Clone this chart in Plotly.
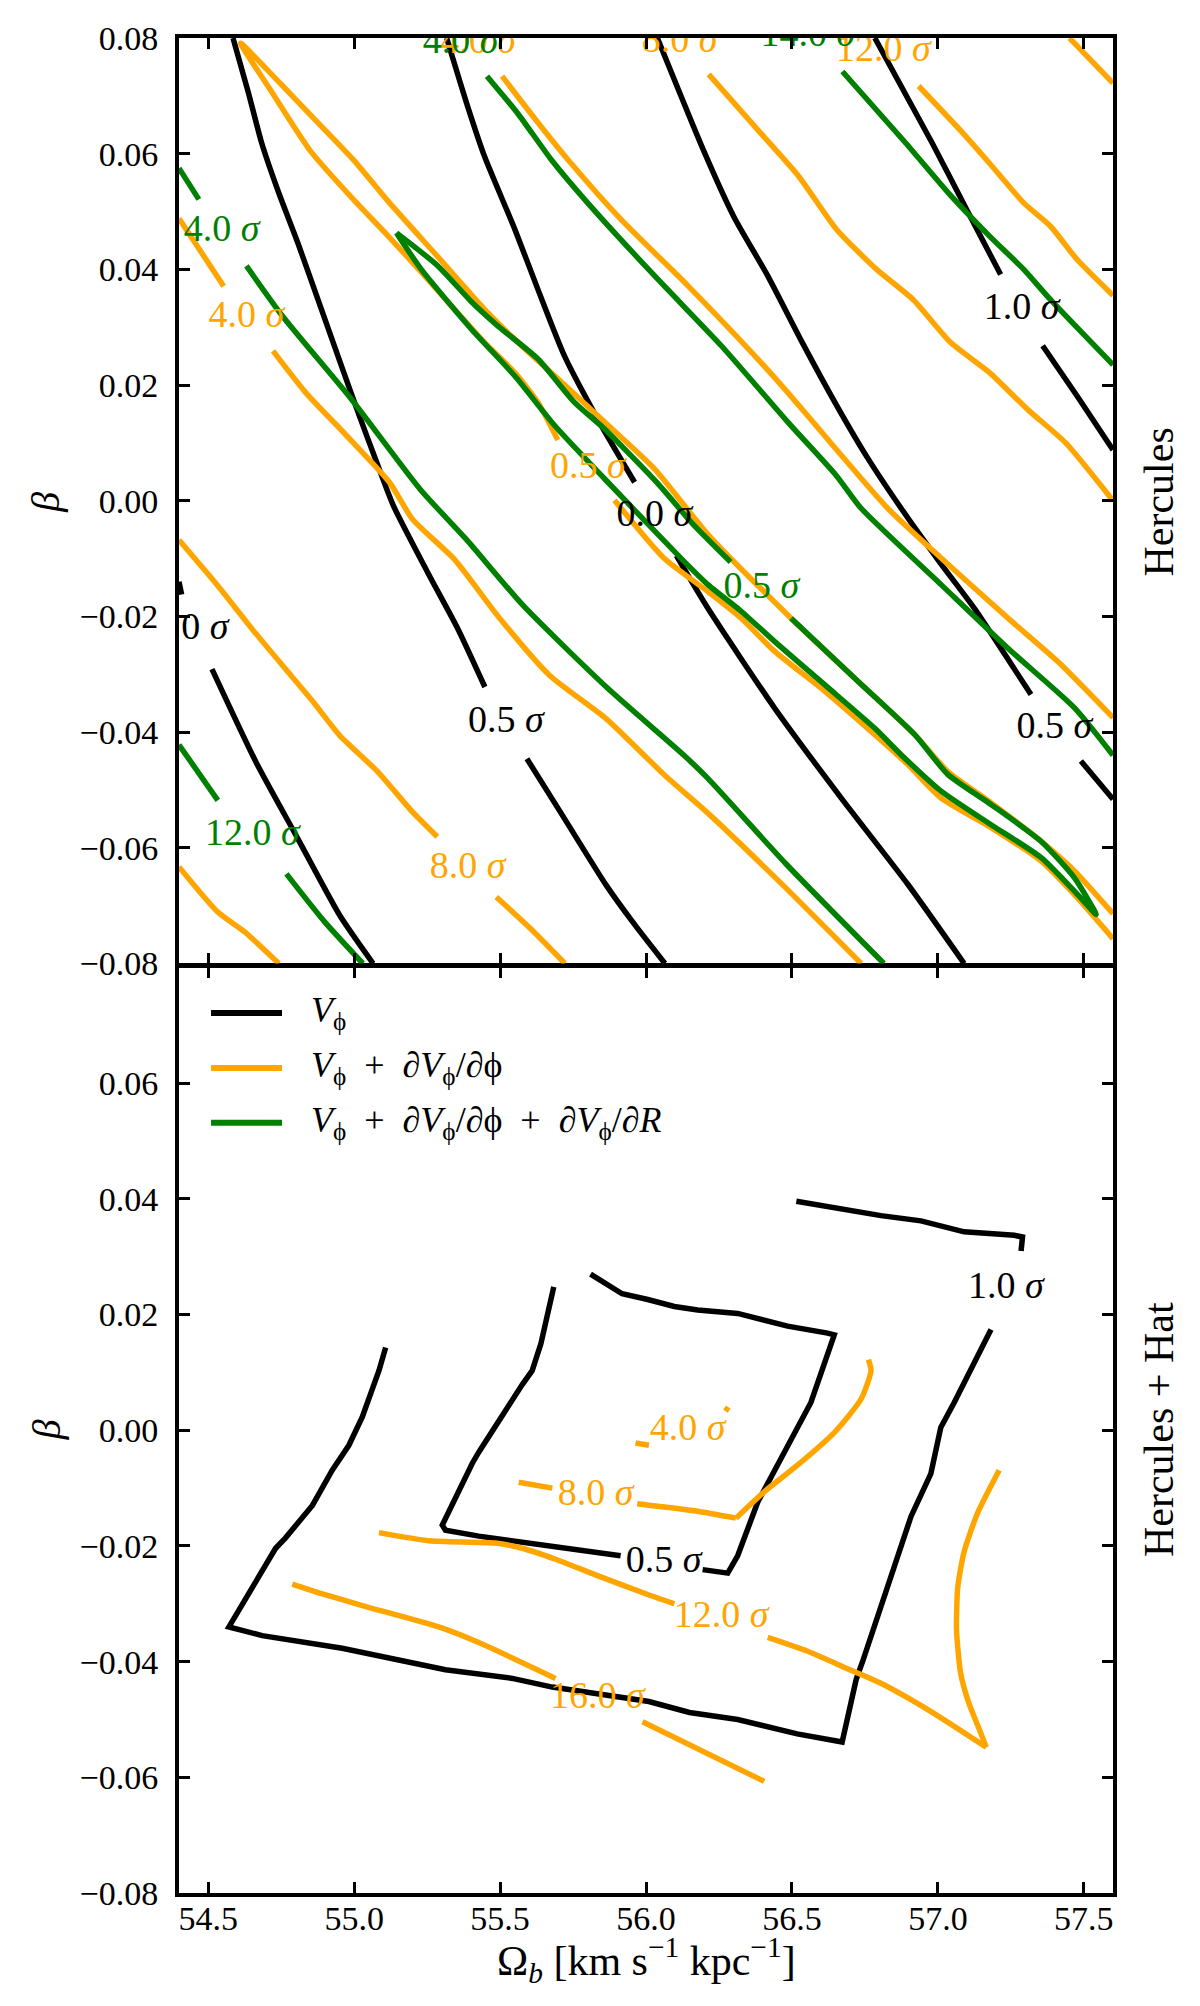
import plotly.graph_objects as go

BLACK = "#000000"
ORANGE = "#ffa500"
GREEN = "#008000"
FONT = "Liberation Serif, DejaVu Serif, serif"

# ---------------- Hercules (top panel): contour segments, (Omega_b, beta) ----------------
herc_k1a = [(54.400, -0.0140), (54.409, -0.0162)]
herc_k1b = [(54.513, -0.0291), (54.664, -0.0452), (54.807, -0.0584), (54.951, -0.0717), (55.065, -0.0800)]
herc_k2a = [(54.585, 0.0800), (54.638, 0.0705), (54.683, 0.0619), (54.742, 0.0532), (54.807, 0.0446),
            (54.878, 0.0345), (54.951, 0.0241), (55.017, 0.0148), (55.082, 0.0060), (55.134, -0.0008),
            (55.252, -0.0124), (55.356, -0.0222), (55.448, -0.0322)]
herc_k2b = [(55.592, -0.0446), (55.709, -0.0540), (55.864, -0.0665), (55.960, -0.0732), (56.065, -0.0800)]
herc_k3a = [(55.317, 0.0800), (55.385, 0.0688), (55.447, 0.0595), (55.550, 0.0470), (55.630, 0.0365),
            (55.721, 0.0250), (55.847, 0.0130), (55.961, 0.0032)]
herc_k3b = [(56.104, -0.0095), (56.212, -0.0186), (56.440, -0.0358), (56.669, -0.0514), (56.897, -0.0663),
            (57.090, -0.0800)]
herc_k4a = [(56.039, 0.0800), (56.196, 0.0607), (56.300, 0.0492), (56.418, 0.0388), (56.536, 0.0273),
            (56.653, 0.0165), (56.758, 0.0075), (56.874, -0.0013), (57.006, -0.0106), (57.125, -0.0186),
            (57.319, -0.0335)]
herc_k4b = [(57.490, -0.0450), (57.600, -0.0516)]
herc_k5a = [(56.784, 0.0800), (56.980, 0.0619), (57.098, 0.0504), (57.215, 0.0391)]
herc_k5b = [(57.359, 0.0268), (57.477, 0.0181), (57.600, 0.0088)]

herc_o1a = [(54.400, 0.0488), (54.553, 0.0371)]
herc_o1b = [(54.722, 0.0259), (54.834, 0.0187), (54.964, 0.0118), (55.121, 0.0032), (55.200, -0.0032),
            (55.343, -0.0101), (55.500, -0.0204), (55.670, -0.0302), (55.864, -0.0377), (56.065, -0.0475),
            (56.212, -0.0540), (56.470, -0.0665), (56.737, -0.0800)]
herc_o2a = [(55.698, 0.0105), (55.630, 0.0170), (55.550, 0.0222), (55.450, 0.0272), (55.344, 0.0331),
            (55.230, 0.0395), (55.116, 0.0458), (54.990, 0.0525), (54.850, 0.0605), (54.720, 0.0705),
            (54.611, 0.0791), (54.750, 0.0720), (54.860, 0.0662), (55.000, 0.0588), (55.116, 0.0518),
            (55.290, 0.0420), (55.458, 0.0325), (55.580, 0.0265), (55.687, 0.0216), (55.858, 0.0136),
            (56.029, 0.0055), (56.212, -0.0058), (56.497, -0.0203), (56.726, -0.0312), (56.920, -0.0404),
            (57.034, -0.0468), (57.182, -0.0522), (57.354, -0.0589), (57.468, -0.0640), (57.600, -0.0714)]
herc_o2b = [(55.892, 0.0001), (56.063, -0.0100), (56.212, -0.0157), (56.326, -0.0203), (56.440, -0.0260),
            (56.612, -0.0329), (56.783, -0.0404), (56.897, -0.0456), (57.011, -0.0514), (57.182, -0.0565),
            (57.354, -0.0623), (57.468, -0.0681), (57.600, -0.0757)]
herc_o3 = [(55.507, 0.0734), (55.620, 0.0660), (55.732, 0.0590), (55.915, 0.0486), (56.143, 0.0372),
           (56.372, 0.0251), (56.486, 0.0187), (56.650, 0.0090), (56.828, -0.0013), (57.011, -0.0099),
           (57.240, -0.0203), (57.411, -0.0278), (57.600, -0.0375)]
herc_o4 = [(56.215, 0.0737), (56.392, 0.0636), (56.523, 0.0561), (56.653, 0.0469), (56.790, 0.0400),
           (56.915, 0.0348), (57.045, 0.0273), (57.176, 0.0222), (57.307, 0.0158), (57.438, 0.0100),
           (57.600, 0.0000)]
herc_o5 = [(56.934, 0.0717), (57.085, 0.0636), (57.176, 0.0584), (57.294, 0.0515), (57.385, 0.0475),
           (57.477, 0.0417), (57.600, 0.0355)]
herc_o6 = [(57.451, 0.0800), (57.600, 0.0722)]
herc_o7a = [(54.400, -0.0068), (54.533, -0.0147), (54.651, -0.0222), (54.755, -0.0285), (54.860, -0.0348),
            (54.951, -0.0406), (55.082, -0.0469), (55.200, -0.0538), (55.285, -0.0581)]
herc_o7b = [(55.487, -0.0685), (55.605, -0.0740), (55.722, -0.0800)]
herc_o8 = [(54.400, -0.0633), (54.533, -0.0711), (54.624, -0.0745), (54.742, -0.0800)]

herc_g0a = [(54.400, -0.0422), (54.533, -0.0518)]
herc_g0b = [(54.768, -0.0645), (54.899, -0.0728), (55.030, -0.0800)]
herc_g1a = [(54.400, 0.0575), (54.468, 0.0521)]
herc_g1b = [(54.631, 0.0406), (54.755, 0.0319), (54.990, 0.0176), (55.226, 0.0020), (55.383, -0.0066),
            (55.579, -0.0181), (55.864, -0.0322), (56.130, -0.0440), (56.212, -0.0480), (56.480, -0.0628),
            (56.815, -0.0800)]
herc_g2a = [(55.145, 0.0463), (55.287, 0.0406), (55.400, 0.0345), (55.493, 0.0302), (55.630, 0.0245),
            (55.755, 0.0170), (55.858, 0.0124), (56.040, 0.0030), (56.160, -0.0040), (56.290, -0.0106)]
herc_g2b = [(56.497, -0.0203), (56.726, -0.0312), (56.920, -0.0404), (57.034, -0.0473), (57.182, -0.0525),
            (57.354, -0.0589), (57.468, -0.0652), (57.542, -0.0715), (57.468, -0.0675), (57.354, -0.0617),
            (57.182, -0.0560), (57.011, -0.0502), (56.874, -0.0439), (56.783, -0.0393), (56.612, -0.0318),
            (56.440, -0.0243), (56.326, -0.0191), (56.212, -0.0145), (56.121, -0.0100), (55.858, 0.0038),
            (55.687, 0.0130), (55.550, 0.0216), (55.401, 0.0297), (55.230, 0.0400), (55.145, 0.0463)]
herc_g3 = [(55.455, 0.0734), (55.560, 0.0670), (55.675, 0.0590), (55.800, 0.0515), (56.029, 0.0389),
           (56.258, 0.0268), (56.486, 0.0136), (56.653, 0.0043), (56.737, -0.0013), (57.011, -0.0145),
           (57.240, -0.0255), (57.468, -0.0358), (57.600, -0.0440)]
herc_g4 = [(56.673, 0.0742), (56.889, 0.0619), (57.045, 0.0527), (57.176, 0.0458), (57.294, 0.0400),
           (57.385, 0.0348), (57.600, 0.0235)]

herc_black_labels = [(54.440, -0.0222, "1.0"), (55.520, -0.0383, "0.5"), (56.029, -0.0028, "0.0"),
                     (57.399, -0.0393, "0.5"), (57.287, 0.0331, "1.0")]
herc_orange_labels = [(54.631, 0.0317, "4.0"), (55.801, 0.0055, "0.5"), (55.389, -0.0636, "8.0"),
                      (55.425, 0.0790, "4.0"), (56.115, 0.0792, "8.0"), (56.813, 0.0777, "12.0")]
herc_green_labels = [(54.546, 0.0466, "4.0"), (56.395, -0.0151, "0.5"), (54.651, -0.0578, "12.0"),
                     (55.365, 0.0790, "4.0"), (56.555, 0.0803, "14.0")]

# ---------------- Hercules + Hat (bottom panel) ----------------
hat_k1a = [(55.108, 0.0143), (55.085, 0.0103), (55.028, 0.0023), (54.982, -0.0026), (54.925, -0.0069),
           (54.857, -0.0130), (54.765, -0.0186), (54.731, -0.0204), (54.571, -0.0340), (54.685, -0.0355),
           (54.959, -0.0377), (55.108, -0.0392), (55.313, -0.0414), (55.542, -0.0429), (55.679, -0.0444),
           (56.010, -0.0469), (56.149, -0.0488), (56.314, -0.0500), (56.518, -0.0525), (56.672, -0.0539),
           (56.720, -0.0431), (56.744, -0.0397), (56.805, -0.0302), (56.908, -0.0149), (56.976, -0.0075),
           (57.010, 0.0005), (57.056, 0.0048), (57.182, 0.0174)]
hat_k1b = [(57.285, 0.0310), (57.290, 0.0334), (57.262, 0.0337), (57.090, 0.0343), (56.942, 0.0362),
           (56.805, 0.0371), (56.515, 0.0396)]
hat_k2a = [(55.684, 0.0248), (55.667, 0.0208), (55.640, 0.0150), (55.610, 0.0103), (55.576, 0.0079),
           (55.427, -0.0038), (55.405, -0.0057), (55.302, -0.0164), (55.313, -0.0173), (55.427, -0.0183),
           (55.599, -0.0195), (55.770, -0.0207), (55.913, -0.0217)]
hat_k2b = [(56.194, -0.0241), (56.280, -0.0247), (56.314, -0.0217), (56.383, -0.0124), (56.474, -0.0038),
           (56.565, 0.0048), (56.645, 0.0165), (56.622, 0.0168), (56.485, 0.0180), (56.314, 0.0202),
           (56.177, 0.0208), (56.097, 0.0214), (56.006, 0.0226), (55.918, 0.0236), (55.810, 0.0270)]

hat_o4a = [(55.964, -0.0022), (56.010, -0.0026)]
hat_o4b = [(56.272, 0.0033), (56.282, 0.0040)]
hat_o8a = [(55.564, -0.0090), (55.679, -0.0100)]
hat_o8b = [(55.970, -0.0127), (56.177, -0.0140), (56.308, -0.0152)]
hat_o8c = [(56.308, -0.0152), (56.406, -0.0106), (56.520, -0.0060), (56.645, -0.0004), (56.737, 0.0054),
           (56.771, 0.0103), (56.762, 0.0122)]
hat_o12a = [(55.085, -0.0177), (55.256, -0.0191), (55.484, -0.0195), (55.576, -0.0204), (55.690, -0.0223),
            (55.827, -0.0250), (56.006, -0.0284), (56.097, -0.0300)]
hat_o12b = [(56.417, -0.0358), (56.554, -0.0382), (56.680, -0.0410), (56.803, -0.0437), (56.982, -0.0488),
            (57.166, -0.0548)]
hat_o12c = [(57.166, -0.0548), (57.137, -0.0511), (57.105, -0.0470), (57.078, -0.0420), (57.064, -0.0346),
            (57.068, -0.0272), (57.090, -0.0210), (57.136, -0.0143), (57.210, -0.0069)]
hat_o16a = [(54.788, -0.0266), (54.879, -0.0281), (55.028, -0.0303), (55.290, -0.0340), (55.427, -0.0367),
            (55.690, -0.0429)]
hat_o16b = [(55.988, -0.0504), (56.405, -0.0607)]

hat_black_labels = [(57.233, 0.0245, "1.0"), (56.060, -0.0229, "0.5")]
hat_orange_labels = [(56.143, -0.0001, "4.0"), (55.827, -0.0112, "8.0"), (56.257, -0.0324, "12.0"),
                     (55.833, -0.0464, "16.0")]

x_ticks = [54.5, 55.0, 55.5, 56.0, 56.5, 57.0, 57.5]
y_ticks_top = [-0.08, -0.06, -0.04, -0.02, 0.0, 0.02, 0.04, 0.06, 0.08]
y_ticks_bottom = [-0.08, -0.06, -0.04, -0.02, 0.0, 0.02, 0.04, 0.06]

legend_names = ["<i>V</i><sub>ϕ</sub>",
                "<i>V</i><sub>ϕ</sub>  +  ∂<i>V</i><sub>ϕ</sub>/∂ϕ",
                "<i>V</i><sub>ϕ</sub>  +  ∂<i>V</i><sub>ϕ</sub>/∂ϕ  +  ∂<i>V</i><sub>ϕ</sub>/∂<i>R</i>"]

fig = go.Figure()


def add_lines(segments, color, xa, ya, shape):
    for seg in segments:
        fig.add_trace(go.Scatter(
            x=[p[0] for p in seg], y=[p[1] for p in seg], mode="lines",
            line=dict(color=color, width=5.5, shape=shape, smoothing=0.6),
            xaxis=xa, yaxis=ya, showlegend=False, hoverinfo="skip"))


def add_labels(labels, color, xa, ya):
    fig.add_trace(go.Scatter(
        x=[p[0] for p in labels], y=[p[1] for p in labels],
        text=[p[2] + " <i>σ</i>" for p in labels], mode="text",
        textposition="middle center", cliponaxis=True,
        textfont=dict(family=FONT, size=38, color=color),
        xaxis=xa, yaxis=ya, showlegend=False, hoverinfo="skip"))


# top panel
add_lines([herc_k1a, herc_k1b, herc_k2a, herc_k2b, herc_k3a, herc_k3b, herc_k4a, herc_k4b,
           herc_k5a, herc_k5b], BLACK, "x2", "y2", "spline")
add_lines([herc_o1a, herc_o1b, herc_o2a, herc_o2b, herc_o3, herc_o4, herc_o5, herc_o6,
           herc_o7a, herc_o7b, herc_o8], ORANGE, "x2", "y2", "spline")
add_lines([herc_g0a, herc_g0b, herc_g1a, herc_g1b, herc_g2a, herc_g2b, herc_g3, herc_g4],
          GREEN, "x2", "y2", "spline")
add_labels(herc_black_labels, BLACK, "x2", "y2")
add_labels(herc_orange_labels, ORANGE, "x2", "y2")
add_labels(herc_green_labels, GREEN, "x2", "y2")

# bottom panel
add_lines([hat_k1a, hat_k1b, hat_k2a, hat_k2b], BLACK, "x", "y", "linear")
add_lines([hat_o4a, hat_o4b, hat_o8a, hat_o8b, hat_o8c, hat_o12a, hat_o12b, hat_o12c, hat_o16a, hat_o16b],
          ORANGE, "x", "y", "spline")
add_labels(hat_black_labels, BLACK, "x", "y")
add_labels(hat_orange_labels, ORANGE, "x", "y")

tickfont = dict(family=FONT, size=34, color="black")
axis_style = dict(showline=True, linewidth=4, linecolor="black", mirror="ticks", ticks="inside",
                  ticklen=11, tickwidth=3, tickcolor="black", showgrid=False, zeroline=False,
                  tickfont=tickfont)


def fmt_y(v):
    s = f"{abs(v):.2f}"
    return ("\u2212" + s) if v < 0 else s


gap = 2 / 1857
fig.update_layout(
    width=1200, height=2006,
    margin=dict(l=171, r=95, t=28, b=121),
    paper_bgcolor="white", plot_bgcolor="white",
    showlegend=False,
    xaxis=dict(domain=[0, 1], anchor="y", range=[54.4, 57.6], tickvals=x_ticks,
               ticktext=[f"{v:.1f}" for v in x_ticks], ticklabelstandoff=-8, **axis_style),
    xaxis2=dict(domain=[0, 1], anchor="y2", range=[54.4, 57.6], matches="x", tickvals=x_ticks,
                showticklabels=False, **axis_style),
    yaxis=dict(domain=[0, 0.5 - gap], anchor="x", range=[-0.08, 0.08], tickvals=y_ticks_bottom,
               ticktext=[fmt_y(v) for v in y_ticks_bottom], ticklabelstandoff=10, **axis_style),
    yaxis2=dict(domain=[0.5 + gap, 1], anchor="x2", range=[-0.08, 0.08], tickvals=y_ticks_top,
                ticktext=[fmt_y(v) for v in y_ticks_top], ticklabelstandoff=10, **axis_style),
)

# legend drawn in the lower panel (top-left corner)
legend_colors = [BLACK, ORANGE, GREEN]
legend_rows = [0.4744, 0.4448, 0.4152]
for name, color, yy in zip(legend_names, legend_colors, legend_rows):
    fig.add_shape(type="line", xref="paper", yref="paper", x0=0.0343, x1=0.1103, y0=yy, y1=yy,
                  line=dict(color=color, width=6))
    fig.add_annotation(xref="paper", yref="paper", x=0.1392, y=yy, text=name, showarrow=False,
                       xanchor="left", yanchor="middle", font=dict(family=FONT, size=36, color="black"))

# axis titles and panel names
fig.add_annotation(xref="paper", yref="paper", x=0.5, y=-0.036, xanchor="center", yanchor="middle",
                   text="Ω<sub><i>b</i></sub> [km s<sup>−1</sup> kpc<sup>−1</sup>]",
                   showarrow=False, font=dict(family=FONT, size=42, color="black"))
for yy in [0.75, 0.25]:
    fig.add_annotation(xref="paper", yref="paper", x=-0.1424, y=yy, text="<i>β</i>", textangle=-90,
                       xanchor="center", yanchor="middle",
                       showarrow=False, font=dict(family=FONT, size=40, color="black"))
fig.add_annotation(xref="paper", yref="paper", x=1.049, y=0.75, text="Hercules", textangle=-90,
                   xanchor="center", yanchor="middle",
                   showarrow=False, font=dict(family=FONT, size=42, color="black"))
fig.add_annotation(xref="paper", yref="paper", x=1.049, y=0.25, text="Hercules + Hat", textangle=-90,
                   xanchor="center", yanchor="middle",
                   showarrow=False, font=dict(family=FONT, size=42, color="black"))

fig.write_html("out.html")
